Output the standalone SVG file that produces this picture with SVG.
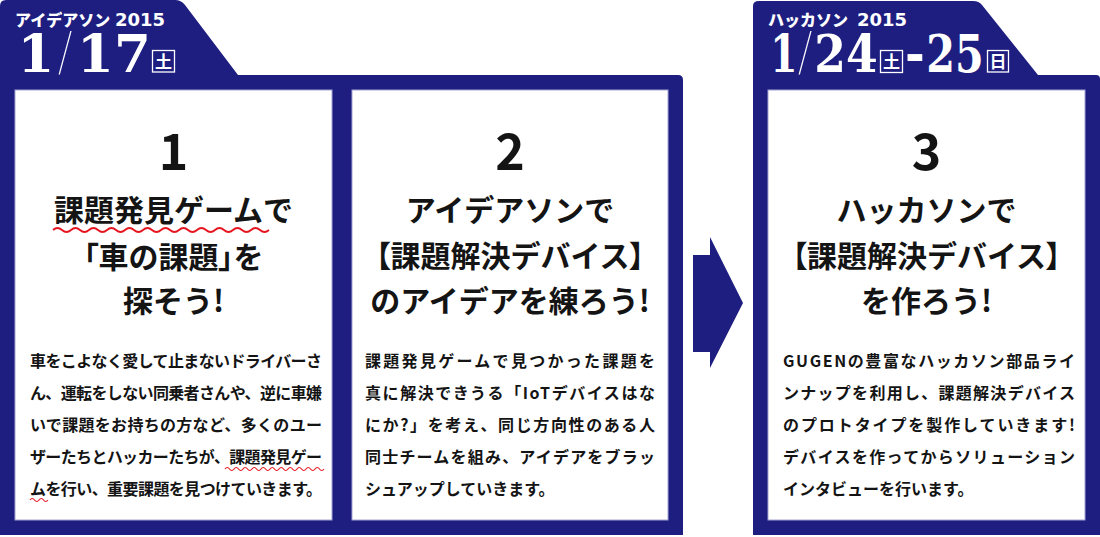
<svg xmlns="http://www.w3.org/2000/svg" width="1100" height="537" viewBox="0 0 1100 537">
<style>
.navy{fill:#1d1e80}
.panel{fill:#ffffff;stroke:#a3a4d2;stroke-width:1}
.hdr{font-family:"Noto Sans CJK JP","Noto Sans",sans-serif;font-weight:900;font-size:16px;fill:#ffffff}
.yr{font-family:"DejaVu Sans",sans-serif;font-weight:700;font-size:18px}
.big{font-family:"DejaVu Serif",serif;font-weight:700;font-size:53px;fill:#ffffff;text-anchor:middle}
.slash{font-family:Inter,Roboto,sans-serif;font-weight:100;font-size:50px;fill:#ffffff;text-anchor:middle}
.day{font-family:"Noto Sans CJK JP",sans-serif;font-weight:700;font-size:17px;fill:#ffffff;text-anchor:middle}
.daybox{fill:none;stroke:#ffffff;stroke-width:1.3}
.num{font-family:"Noto Sans CJK JP","Noto Sans",sans-serif;font-weight:700;font-size:50px;fill:#141414;text-anchor:middle}
.ttl{font-family:"Noto Sans CJK JP",sans-serif;font-weight:700;font-size:30px;fill:#141414;text-anchor:middle}
.p{font-feature-settings:"palt"}
.body{font-family:"Noto Sans CJK JP",sans-serif;font-weight:700;font-size:16px;fill:#141414}
.wave{fill:none;stroke:#e6141e;stroke-width:1.8}
.wave2{fill:none;stroke:#e6141e;stroke-width:1.2}
</style>

<g id="frame-ideathon">
<path class="navy" d="M0,6 Q0,0 6,0 L175,0 Q181,0 185,5 L238,75 L678,75 Q683,75 683,80 L683,535 L0,535 Z"/>
</g>
<g id="frame-hackathon">
<path class="navy" d="M753,6 Q753,1 759,1 L973,1 Q979,1 982,5 L1038,75 L1096,75 Q1100,75 1100,79 L1100,535 L753,535 Z"/>
</g>

<g id="header-ideathon">
<text class="hdr" x="15" y="26">アイデアソン<tspan class="yr" x="115">2015</tspan></text>
<text class="big" x="36" y="72">1</text>
<text class="slash" x="65" y="69">/</text>
<text class="big" x="114" y="72">17</text>
<rect class="daybox" x="152.5" y="50.5" width="22" height="21.5"/>
<text class="day" x="163.5" y="68">土</text>
</g>

<g id="header-hackathon">
<text class="hdr" x="768" y="26">ハッカソン<tspan class="yr" x="857">2015</tspan></text>
<text class="big" transform="translate(784,72) scale(0.74,1)" x="0" y="0">1</text>
<text class="slash" x="805" y="69">/</text>
<text class="big" transform="translate(846,72) scale(0.86,1)" x="0" y="0">24</text>
<rect class="daybox" x="880.5" y="50.5" width="22" height="22"/>
<text class="day" x="891.5" y="68">土</text>
<text class="big" transform="translate(915,72) scale(0.9,1)" x="0" y="0">-</text>
<text class="big" transform="translate(955,72) scale(0.78,1)" x="0" y="0">25</text>
<rect class="daybox" x="987.5" y="50.5" width="21" height="21.5"/>
<text class="day" x="998" y="68">日</text>
</g>

<g id="step1">
<rect class="panel" x="15" y="90" width="317" height="430"/>
<text class="num" x="173.5" y="170">1</text>
<text class="ttl" x="173.5" y="221">課題発見ゲームで</text>
<text class="ttl" x="173.5" y="268"><tspan class="p">「</tspan>車の課題<tspan class="p">」</tspan>を</text>
<text class="ttl" x="173.5" y="312">探そう!</text>
<text class="body" x="30" y="367" textLength="292" lengthAdjust="spacing">車をこよなく愛して止まないドライバーさ</text>
<text class="body" x="30" y="399" textLength="292" lengthAdjust="spacing">ん、運転をしない同乗者さんや、逆に車嫌</text>
<text class="body" x="30" y="431" textLength="292" lengthAdjust="spacing">いで課題をお持ちの方など、多くのユー</text>
<text class="body" x="30" y="463" textLength="292" lengthAdjust="spacing">ザーたちとハッカーたちが、課題発見ゲー</text>
<text class="body" x="30" y="495" textLength="292" lengthAdjust="spacing">ムを行い、重要課題を見つけていきます。</text>
<path class="wave" d="M53,230 Q57.5,226 62,230 T71,230 T80,230 T89,230 T98,230 T107,230 T116,230 T125,230 T134,230 T143,230 T152,230 T161,230 T170,230 T179,230 T188,230 T197,230 T206,230 T215,230 T224,230 T233,230 T242,230 T251,230 T260,230 T269,230"/>
<path class="wave2" d="M225,469 Q227.25,466 229.5,469 T234,469 T238.5,469 T243,469 T247.5,469 T252,469 T256.5,469 T261,469 T265.5,469 T270,469 T274.5,469 T279,469 T283.5,469 T288,469 T292.5,469 T297,469 T301.5,469 T306,469 T310.5,469 T315,469 T319.5,469 T324,469"/>
<path class="wave2" d="M30,500 Q32.25,497 34.5,500 T39,500 T43.5,500 T48,500"/>
</g>

<g id="step2">
<rect class="panel" x="352" y="90" width="316" height="430"/>
<text class="num" x="510" y="170">2</text>
<text class="ttl" x="510" y="221">アイデアソンで</text>
<text class="ttl" x="510" y="267"><tspan class="p">【</tspan>課題解決デバイス<tspan class="p">】</tspan></text>
<text class="ttl" x="510" y="312">のアイデアを練ろう!</text>
<text class="body" x="365" y="367" textLength="290" lengthAdjust="spacing">課題発見ゲームで見つかった課題を</text>
<text class="body" x="365" y="399" textLength="290" lengthAdjust="spacing">真に解決できうる「IoTデバイスはな</text>
<text class="body" x="365" y="431" textLength="290" lengthAdjust="spacing">にか?」を考え、同じ方向性のある人</text>
<text class="body" x="365" y="463" textLength="290" lengthAdjust="spacing">同士チームを組み、アイデアをブラッ</text>
<text class="body" x="365" y="495">シュアップしていきます。</text>
</g>

<g id="step3">
<rect class="panel" x="768" y="90" width="317" height="430"/>
<text class="num" x="926.5" y="170">3</text>
<text class="ttl" x="926.5" y="221">ハッカソンで</text>
<text class="ttl" x="926.5" y="267"><tspan class="p">【</tspan>課題解決デバイス<tspan class="p">】</tspan></text>
<text class="ttl" x="926.5" y="312">を作ろう!</text>
<text class="body" x="783" y="367" textLength="292" lengthAdjust="spacing">GUGENの豊富なハッカソン部品ライ</text>
<text class="body" x="783" y="399" textLength="292" lengthAdjust="spacing">ンナップを利用し、課題解決デバイス</text>
<text class="body" x="783" y="431" textLength="292" lengthAdjust="spacing">のプロトタイプを製作していきます!</text>
<text class="body" x="783" y="463" textLength="292" lengthAdjust="spacing">デバイスを作ってからソリューション</text>
<text class="body" x="783" y="495">インタビューを行います。</text>
</g>

<g id="connectors">
<polygon class="navy" points="693,255 710,255 710,237 743,303 710,368 710,352 693,352"/>
</g>
</svg>
